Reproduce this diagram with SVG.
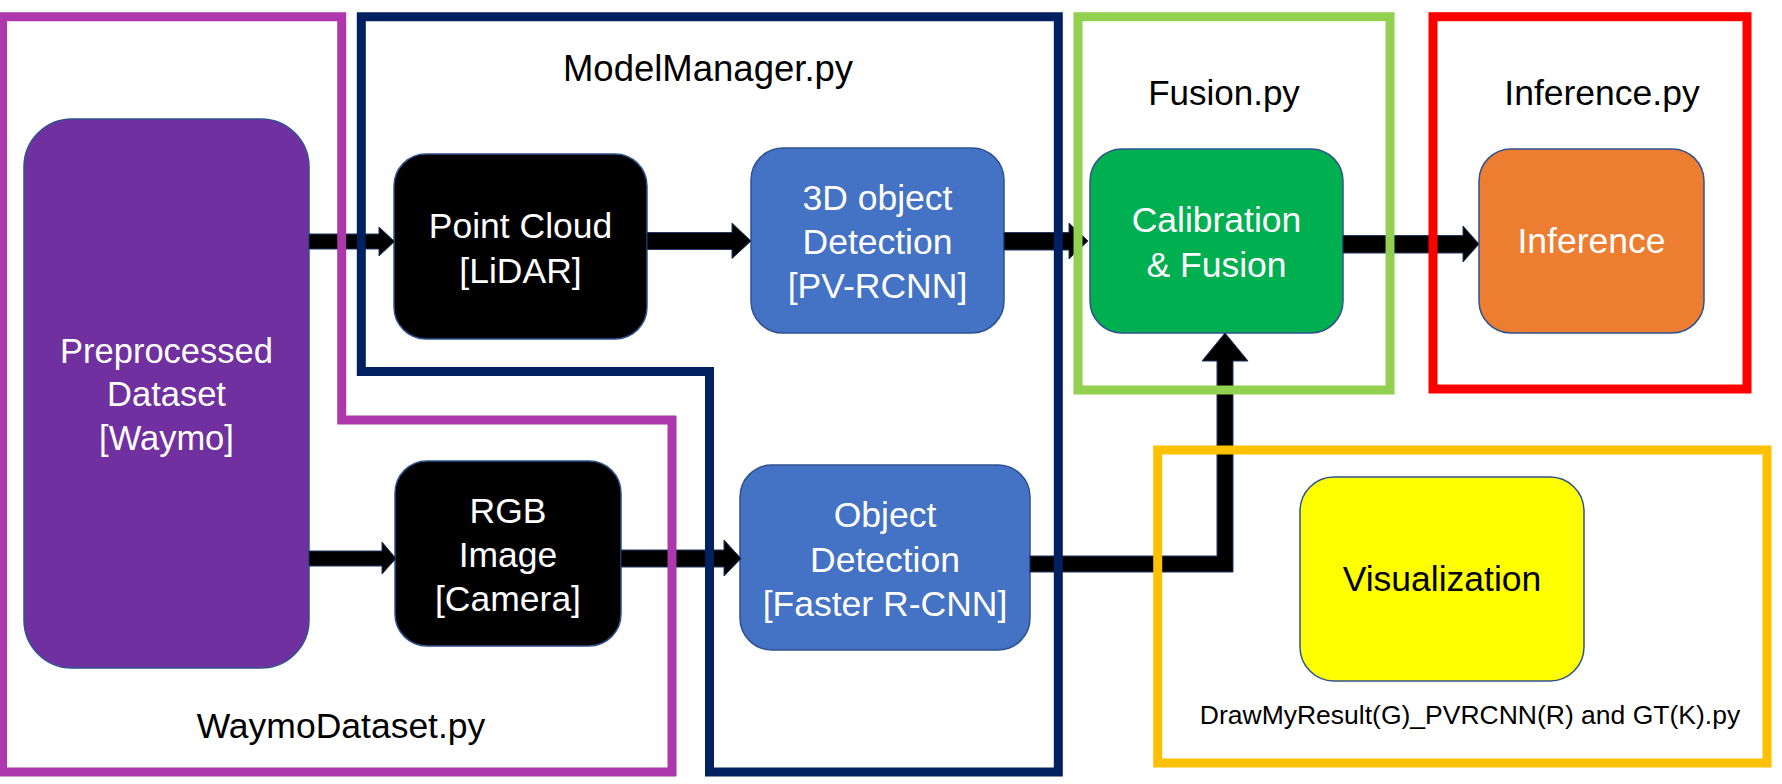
<svg xmlns="http://www.w3.org/2000/svg" width="1782" height="784" viewBox="0 0 1782 784">
<style>
  .node { stroke: #2F528F; stroke-width: 1.5; }
  .t { font-family: "Liberation Sans", Arial, sans-serif; font-size: 35.5px; text-anchor: middle; }
  .w { fill: #FFFFFF; }
  .k { fill: #000000; }
  .arrow { fill: #000000; stroke: #1F3864; stroke-width: 1; stroke-linejoin: miter; }
  .frame { fill: none; stroke-width: 9; stroke-linejoin: miter; }
</style>
<rect x="0" y="0" width="1782" height="784" fill="#FFFFFF"/>

<g id="node-preprocessed">
  <rect class="node" x="24" y="119" width="285" height="549" rx="48" ry="48" fill="#7030A0"/>
  <text class="t w" x="166.5" y="363" style="font-size:34.5px">Preprocessed</text>
  <text class="t w" x="166.5" y="406" style="font-size:34.5px">Dataset</text>
  <text class="t w" x="166.5" y="450" style="font-size:34.5px">[Waymo]</text>
</g>
<g id="node-pointcloud">
  <rect class="node" x="394" y="154" width="253" height="185" rx="32" ry="32" fill="#000000"/>
  <text class="t w" x="520.5" y="238">Point Cloud</text>
  <text class="t w" x="520.5" y="283">[LiDAR]</text>
</g>
<g id="node-3d">
  <rect class="node" x="751" y="148" width="253" height="185" rx="32" ry="32" fill="#4472C4"/>
  <text class="t w" x="877.5" y="210">3D object</text>
  <text class="t w" x="877.5" y="254">Detection</text>
  <text class="t w" x="877.5" y="298">[PV-RCNN]</text>
</g>
<g id="node-calibration">
  <rect class="node" x="1090" y="149" width="253" height="184" rx="32" ry="32" fill="#00B050"/>
  <text class="t w" x="1216.5" y="232">Calibration</text>
  <text class="t w" x="1216.5" y="277">&amp; Fusion</text>
</g>
<g id="node-inference">
  <rect class="node" x="1479" y="149" width="225" height="184" rx="32" ry="32" fill="#ED7D31"/>
  <text class="t w" x="1591.5" y="253">Inference</text>
</g>
<g id="node-rgb">
  <rect class="node" x="395" y="461" width="226" height="185" rx="32" ry="32" fill="#000000"/>
  <text class="t w" x="508" y="523">RGB</text>
  <text class="t w" x="508" y="567">Image</text>
  <text class="t w" x="508" y="611">[Camera]</text>
</g>
<g id="node-objdet">
  <rect class="node" x="740" y="465" width="290" height="185" rx="32" ry="32" fill="#4472C4"/>
  <text class="t w" x="885" y="527">Object</text>
  <text class="t w" x="885" y="572">Detection</text>
  <text class="t w" x="885" y="616">[Faster R-CNN]</text>
</g>
<g id="node-visualization">
  <rect class="node" x="1300" y="477" width="284" height="204" rx="34" ry="34" fill="#FFFF00"/>
  <text class="t k" x="1442" y="591">Visualization</text>
</g>

<g id="connectors">
  <polygon class="arrow" points="309,234 379,234 379,227 394.5,241.5 379,256 379,249 309,249"/>
  <polygon class="arrow" points="647,232.5 732,232.5 732,223 751,241 732,258.5 732,249.5 647,249.5"/>
  <polygon class="arrow" points="1004,232.5 1069,232.5 1069,223 1088,241 1069,259 1069,250 1004,250"/>
  <polygon class="arrow" points="1343,235.5 1463,235.5 1463,226 1479,244 1463,262 1463,253 1343,253"/>
  <polygon class="arrow" points="309,551 382,551 382,542 396,558.5 382,574 382,566 309,566"/>
  <polygon class="arrow" points="621,550 724,550 724,540 741,558.5 724,576 724,567 621,567"/>
  <polygon class="arrow" points="1030,556 1217,556 1217,361 1202,361 1225,333 1248,361 1233,361 1233,572 1030,572"/>
</g>

<g id="frame-waymodataset">
  <path class="frame" stroke="#AC38AC" d="M2.5 16.7 H341.7 V420 H672 V772 H2.5 Z"/>
  <text class="t k" x="341" y="738">WaymoDataset.py</text>
</g>
<g id="frame-modelmanager">
  <path class="frame" stroke="#002060" d="M361.3 16.7 H1058.3 V772 H709.5 V371.5 H361.3 Z"/>
  <text class="t k" x="708" y="81" style="font-size:36.5px">ModelManager.py</text>
</g>
<g id="frame-fusion">
  <rect class="frame" stroke="#92D050" x="1078" y="16.7" width="312" height="373.3"/>
  <text class="t k" x="1224" y="105" style="font-size:35px">Fusion.py</text>
</g>
<g id="frame-inference">
  <rect class="frame" stroke="#FF0000" x="1433" y="16.7" width="314" height="372.3"/>
  <text class="t k" x="1602" y="105">Inference.py</text>
</g>
<g id="frame-visualization">
  <rect class="frame" stroke="#FFC000" x="1157.7" y="450" width="609.3" height="313"/>
  <text class="t k" x="1470" y="724" style="font-size:26.5px">DrawMyResult(G)_PVRCNN(R) and GT(K).py</text>
</g>
</svg>
